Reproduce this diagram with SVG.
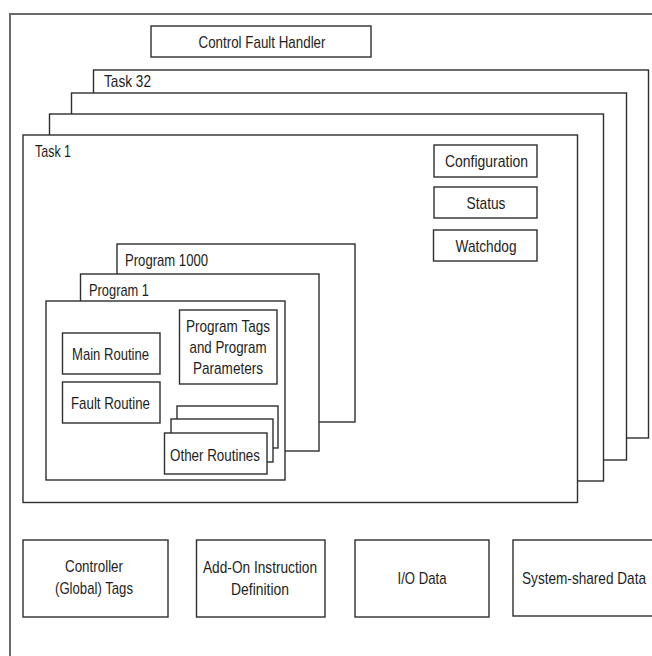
<svg xmlns="http://www.w3.org/2000/svg" width="652" height="656" viewBox="0 0 652 656">
<style>
  .box { fill: #ffffff; stroke: #2e2e2e; stroke-width: 1.4; }
  .frame { fill: #ffffff; stroke: #6a6a6a; stroke-width: 2; }
  text { font-family: "Liberation Sans", Arial, sans-serif; font-size: 17px; fill: #1e1e1e; }
  .c { text-anchor: middle; }
</style>
<rect width="652" height="656" fill="#ffffff"/>
<g id="controller-frame">
  <rect class="frame" x="10" y="14" width="720" height="720"/>
</g>
<g id="control-fault-handler">
  <rect class="box" x="151" y="26" width="220" height="31"/>
  <text class="c" x="262" y="48" textLength="127" lengthAdjust="spacingAndGlyphs">Control Fault Handler</text>
</g>
<g id="task-32">
  <rect class="box" x="93.5" y="70" width="555" height="368"/>
  <text x="104" y="86.5" textLength="47" lengthAdjust="spacingAndGlyphs">Task 32</text>
</g>
<g id="task-stack-2">
  <rect class="box" x="71.5" y="93" width="555" height="367"/>
</g>
<g id="task-stack-3">
  <rect class="box" x="49.5" y="114" width="554" height="367"/>
</g>
<g id="task-1">
  <rect class="box" x="23" y="135" width="554.5" height="367.5"/>
  <text x="35" y="157" textLength="36" lengthAdjust="spacingAndGlyphs">Task 1</text>
</g>
<g id="configuration">
  <rect class="box" x="434" y="145" width="103" height="32"/>
  <text class="c" x="486.5" y="167" textLength="83" lengthAdjust="spacingAndGlyphs">Configuration</text>
</g>
<g id="status">
  <rect class="box" x="434" y="187" width="103" height="31"/>
  <text class="c" x="486" y="208.5" textLength="39" lengthAdjust="spacingAndGlyphs">Status</text>
</g>
<g id="watchdog">
  <rect class="box" x="433.5" y="230" width="103.5" height="31"/>
  <text class="c" x="486" y="251.5" textLength="61" lengthAdjust="spacingAndGlyphs">Watchdog</text>
</g>
<g id="program-1000">
  <rect class="box" x="117" y="244" width="238" height="178"/>
  <text x="125" y="265.5" textLength="83" lengthAdjust="spacingAndGlyphs">Program 1000</text>
</g>
<g id="program-1">
  <rect class="box" x="80.5" y="274" width="238.5" height="177"/>
  <text x="89" y="295.5" textLength="60" lengthAdjust="spacingAndGlyphs">Program 1</text>
</g>
<g id="program-body">
  <rect class="box" x="46" y="301" width="239" height="179"/>
</g>
<g id="main-routine">
  <rect class="box" x="62.5" y="333" width="97.5" height="41"/>
  <text class="c" x="110.5" y="360" textLength="77" lengthAdjust="spacingAndGlyphs">Main Routine</text>
</g>
<g id="fault-routine">
  <rect class="box" x="62.5" y="382" width="97.5" height="41"/>
  <text class="c" x="110.5" y="409" textLength="79" lengthAdjust="spacingAndGlyphs">Fault Routine</text>
</g>
<g id="program-tags">
  <rect class="box" x="179.5" y="310" width="97.5" height="74"/>
  <text class="c" x="228" y="332" textLength="84" lengthAdjust="spacingAndGlyphs">Program Tags</text>
  <text class="c" x="228" y="353" textLength="77" lengthAdjust="spacingAndGlyphs">and Program</text>
  <text class="c" x="228" y="374" textLength="70" lengthAdjust="spacingAndGlyphs">Parameters</text>
</g>
<g id="other-routines-back">
  <rect class="box" x="177" y="406" width="101" height="42"/>
</g>
<g id="other-routines-mid">
  <rect class="box" x="171" y="419" width="102" height="43"/>
</g>
<g id="other-routines">
  <rect class="box" x="164.5" y="433" width="102.5" height="41"/>
  <text class="c" x="215" y="461" textLength="90" lengthAdjust="spacingAndGlyphs">Other Routines</text>
</g>
<g id="controller-tags">
  <rect class="box" x="23" y="540" width="145" height="77"/>
  <text class="c" x="94" y="572" textLength="58" lengthAdjust="spacingAndGlyphs">Controller</text>
  <text class="c" x="94" y="594" textLength="78" lengthAdjust="spacingAndGlyphs">(Global) Tags</text>
</g>
<g id="aoi-definition">
  <rect class="box" x="196.5" y="540" width="128.5" height="77"/>
  <text class="c" x="260" y="573" textLength="114" lengthAdjust="spacingAndGlyphs">Add-On Instruction</text>
  <text class="c" x="260" y="595" textLength="58" lengthAdjust="spacingAndGlyphs">Definition</text>
</g>
<g id="io-data">
  <rect class="box" x="355" y="540" width="134" height="77"/>
  <text class="c" x="422" y="584" textLength="49" lengthAdjust="spacingAndGlyphs">I/O Data</text>
</g>
<g id="system-shared-data">
  <rect class="box" x="513" y="540" width="160" height="76"/>
  <text class="c" x="584" y="584" textLength="124" lengthAdjust="spacingAndGlyphs">System-shared Data</text>
</g>
<g id="connectors"></g>
</svg>
